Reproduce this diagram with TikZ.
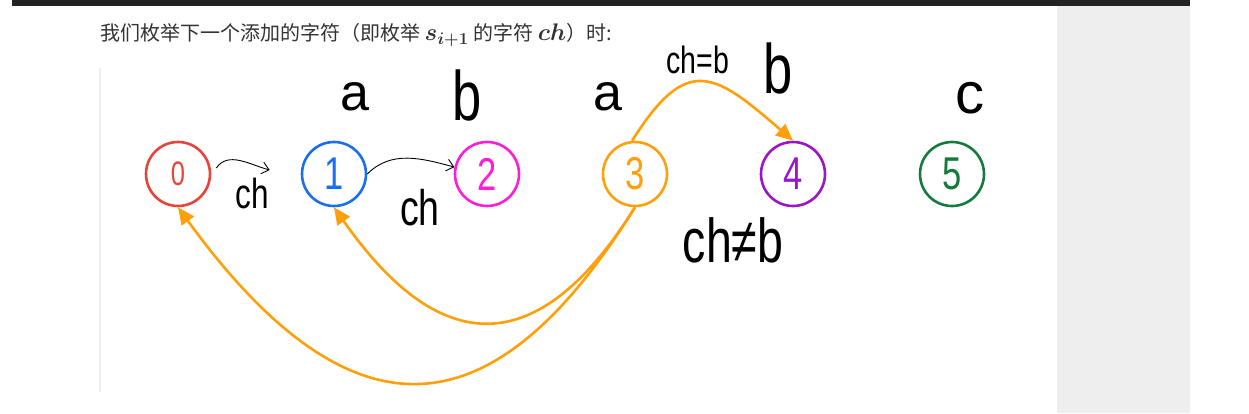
\RequirePackage{fix-cm}
\documentclass[tikz,border=0pt]{standalone}
\usepackage{fontspec}
\usepackage{xcolor}
\setmainfont{Liberation Sans}
\newfontfamily\cjk{Noto Sans CJK SC}
\newfontfamily\hand{Liberation Sans}
\newfontfamily\handn[FakeStretch=0.75]{Liberation Sans}
\usetikzlibrary{arrows.meta}

\definecolor{cred}{HTML}{E8443A}
\definecolor{cblue}{HTML}{1A6FF0}
\definecolor{cpink}{HTML}{FF1DD8}
\definecolor{corange}{HTML}{FFA00A}
\definecolor{cpurple}{HTML}{9B15C9}
\definecolor{cgreen}{HTML}{157A3C}
\definecolor{barc}{HTML}{222222}
\definecolor{panelc}{HTML}{EEEEEE}
\definecolor{rulec}{HTML}{EEEEEE}
\definecolor{txtc}{HTML}{333333}

% math inside the caption, set a little larger than the text
\newcommand{\capmath}[1]{{\fontsize{24}{24}\selectfont$\boldsymbol{#1}$}}
\usepackage{amsmath}
\usepackage{amsbsy}

\begin{document}
\begin{tikzpicture}[
    x=1pt, y=1pt,
    state/.style={circle, draw=#1, text=#1, line width=2.6pt,
                  minimum size=64pt, inner sep=0pt,
                  font=\handn\fontsize{46}{46}\selectfont},
    link/.style={-{Straight Barb[length=7pt, width=12pt]}, line width=0.9pt},
    jump/.style={-{Triangle[length=17pt, width=15pt]}, draw=corange,
                 line width=2.6pt},
    % handwritten letters: plain and narrowed
    hw/.style={font=\hand\fontsize{#1}{#1}\selectfont, inner sep=0pt},
    hwn/.style={font=\handn\fontsize{#1}{#1}\selectfont, inner sep=0pt},
]

%% ── Page frame ──────────────────────────────────────────────────────────────
\fill[white] (0,0) rectangle (1249,-413);
\useasboundingbox (0,0) rectangle (1249,-413);
\fill[barc]   (12,0)     rectangle (1190,-6);
\fill[panelc] (1057,-6)  rectangle (1190,-413);
\draw[rulec, line width=1.5pt] (100,-68) -- (100,-392);

%% ── Caption ─────────────────────────────────────────────────────────────────
\node[anchor=west, inner sep=0pt, text=txtc,
      font=\cjk\fontsize{20}{20}\selectfont] (title) at (100,-35)
  {我们枚举下一个添加的字符（即枚举 \capmath{s_{i+1}} 的字符 \capmath{ch}）时:};

%% ── States ──────────────────────────────────────────────────────────────────
\node[state=cred, font=\handn\fontsize{34}{34}\selectfont]
                     (n0) at (178,-174) {0};
\node[state=cblue]   (n1) at (334,-174) {1};
\node[state=cpink]   (n2) at (487,-174) {2};
\node[state=corange] (n3) at (635,-174) {3};
\node[state=cpurple] (n4) at (793,-174) {4};
\node[state=cgreen]  (n5) at (952,-174) {5};

%% ── Letters above the states ────────────────────────────────────────────────
\node[hw=52]  (la1) at (355,-97) {a};
\node[hwn=70] (lb1) at (467,-95) {b};
\node[hw=52]  (la2) at (608,-97) {a};
\node[hwn=70] (lb2) at (778,-68) {b};
\node[hw=58]  (lc)  at (970,-98) {c};

%% ── Forward steps on ch ─────────────────────────────────────────────────────
\coordinate (c01a) at ([shift={(5,6)}]n0.east);
\coordinate (c01b) at ([shift={(-31,4)}]n1.west);
\draw[link] (c01a) to[out=55, in=165] (c01b);
\draw[link] (n1.east) to[out=45, in=165] (n2.168);
\node[hwn=42] (lch1) at (252,-193) {ch};
\node[hwn=50] (lch2) at (420,-208) {ch};

%% ── Transitions out of state 3 ──────────────────────────────────────────────
\draw[jump] (n3.95) to[out=58, in=139, looseness=1.65] (n4.north);
\draw[jump] (n3.south)
    to[out=238, in=-55, out looseness=1.25, in looseness=1.85] (n1.south);
\draw[jump] (n3.south)
    to[out=238, in=-54, out looseness=1.3, in looseness=1.85] (n0.south);
\node[hwn=38] (leq) at (698,-60)  {ch=b};
\node[hwn=62] (lne) at (733,-240) {ch≠b};

\end{tikzpicture}
\end{document}
